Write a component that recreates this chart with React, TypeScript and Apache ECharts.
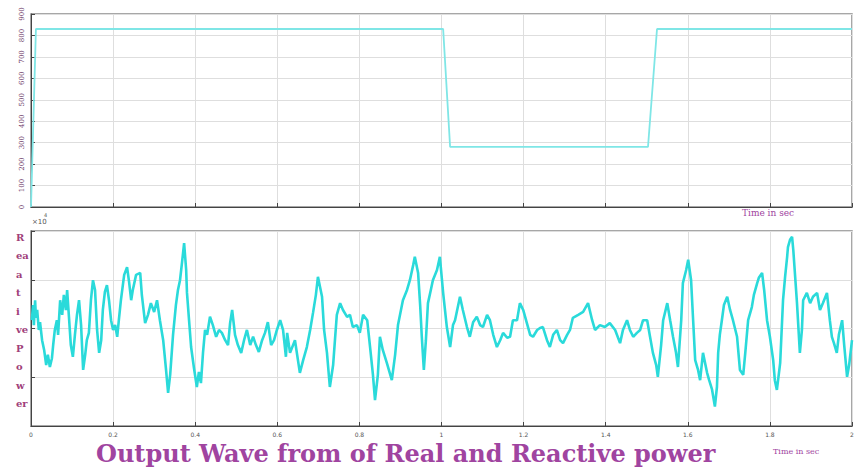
import React, { useEffect, useRef } from "react";
import * as echarts from "echarts";

// Top plot: real power (step profile)
const realTime = [0, 0.012, 1.004, 1.021, 1.503, 1.525, 2];
const realPower = [0, 830, 830, 280, 280, 830, 830];

// Bottom plot: reactive power (x10^4), noisy trace
const reactivePoints: [number, number][] = [
  [0.002,0.17],[0.005,0.48],[0.007,0.07],[0.010,0.58],[0.012,0.22],[0.015,0.38],[0.019,-0.03],[0.022,0.13],[0.027,-0.24],[0.032,-0.44],
  [0.037,-0.75],[0.041,-0.54],[0.046,-0.79],[0.051,-0.61],[0.054,-0.34],[0.058,-0.03],[0.063,0.17],[0.066,-0.13],[0.071,0.58],[0.076,0.28],
  [0.080,0.69],[0.085,0.38],[0.088,0.79],[0.093,0.17],[0.097,-0.34],[0.102,-0.58],[0.107,-0.13],[0.112,0.28],[0.117,0.58],[0.122,0.07],
  [0.127,-0.85],[0.132,-0.54],[0.136,-0.24],[0.141,-0.09],[0.146,0.58],[0.151,0.99],[0.156,0.79],[0.161,-0.03],[0.166,-0.50],[0.171,-0.24],
  [0.175,0.38],[0.180,0.75],[0.185,0.89],[0.190,0.58],[0.195,0.17],[0.200,-0.03],[0.205,0.07],[0.210,-0.17],[0.214,0.17],[0.219,0.58],
  [0.227,1.10],[0.234,1.26],[0.239,0.95],[0.244,0.58],[0.248,0.79],[0.256,1.10],[0.266,1.14],[0.270,0.69],[0.278,0.11],[0.285,0.28],
  [0.292,0.52],[0.300,0.34],[0.307,0.58],[0.314,0.17],[0.322,-0.24],[0.329,-0.85],[0.334,-1.32],[0.339,-0.95],[0.346,-0.13],[0.353,0.48],
  [0.358,0.79],[0.363,0.99],[0.368,1.36],[0.373,1.75],[0.378,1.20],[0.380,0.73],[0.385,0.17],[0.390,-0.38],[0.397,-0.81],[0.404,-1.20],
  [0.409,-0.89],[0.414,-1.12],[0.419,-0.50],[0.424,-0.03],[0.429,-0.13],[0.436,0.24],[0.443,0.07],[0.451,-0.17],[0.458,-0.03],[0.465,-0.09],
  [0.473,-0.24],[0.480,-0.34],[0.485,0.11],[0.490,0.38],[0.497,-0.13],[0.504,-0.34],[0.512,-0.50],[0.519,-0.24],[0.526,-0.03],[0.534,-0.34],
  [0.541,-0.17],[0.548,-0.34],[0.555,-0.48],[0.563,-0.24],[0.570,-0.09],[0.577,0.13],[0.585,-0.34],[0.592,-0.24],[0.599,-0.03],[0.607,0.17],
  [0.614,-0.03],[0.621,-0.58],[0.624,-0.09],[0.631,-0.50],[0.643,-0.24],[0.655,-0.91],[0.663,-0.65],[0.672,-0.38],[0.680,-0.03],[0.687,0.32],
  [0.694,0.69],[0.699,1.06],[0.709,0.65],[0.714,-0.03],[0.721,-0.50],[0.728,-1.20],[0.736,-0.75],[0.741,-0.17],[0.745,0.28],[0.753,0.52],
  [0.760,0.38],[0.770,0.24],[0.777,0.28],[0.784,0.03],[0.794,0.07],[0.801,-0.09],[0.809,0.28],[0.819,0.17],[0.826,-0.38],[0.833,-0.95],
  [0.838,-1.47],[0.845,-0.95],[0.850,-0.17],[0.857,-0.44],[0.867,-0.71],[0.879,-1.06],[0.887,-0.54],[0.894,0.07],[0.906,0.58],[0.916,0.79],
  [0.923,0.99],[0.931,1.30],[0.935,1.47],[0.943,1.14],[0.948,0.48],[0.952,-0.17],[0.957,-0.85],[0.962,-0.24],[0.967,0.52],[0.974,0.79],
  [0.979,0.99],[0.989,1.20],[0.996,1.47],[1.004,0.73],[1.013,0.03],[1.021,-0.38],[1.028,0.07],[1.033,0.17],[1.045,0.65],[1.052,0.38],
  [1.062,0.03],[1.069,-0.17],[1.077,0.13],[1.086,0.24],[1.094,0.07],[1.101,0.03],[1.111,0.28],[1.118,0.17],[1.126,-0.13],[1.135,-0.38],
  [1.143,-0.24],[1.150,-0.09],[1.160,-0.19],[1.167,-0.17],[1.174,0.17],[1.184,0.17],[1.191,0.52],[1.199,0.38],[1.208,0.11],[1.216,-0.13],
  [1.223,-0.17],[1.233,-0.03],[1.240,0.01],[1.247,0.03],[1.257,-0.24],[1.264,-0.38],[1.272,-0.13],[1.281,-0.03],[1.289,-0.24],[1.296,-0.30],
  [1.306,-0.13],[1.313,-0.03],[1.320,0.22],[1.333,0.28],[1.345,0.34],[1.357,0.52],[1.367,0.17],[1.374,-0.03],[1.386,0.07],[1.398,0.03],
  [1.410,0.11],[1.423,-0.03],[1.435,-0.30],[1.442,-0.03],[1.452,0.17],[1.459,-0.03],[1.467,-0.17],[1.476,-0.09],[1.484,-0.03],[1.491,0.17],
  [1.501,0.17],[1.508,-0.17],[1.515,-0.50],[1.523,-0.75],[1.527,-0.99],[1.535,-0.34],[1.540,0.17],[1.550,0.52],[1.557,0.17],[1.564,-0.17],
  [1.571,-0.48],[1.576,-0.79],[1.584,0.17],[1.588,0.93],[1.596,1.20],[1.601,1.41],[1.608,0.99],[1.613,0.17],[1.618,-0.65],[1.625,-0.85],
  [1.630,-1.06],[1.637,-0.50],[1.647,-0.91],[1.652,-1.06],[1.659,-1.25],[1.666,-1.60],[1.671,-1.20],[1.674,-0.50],[1.678,-0.13],[1.683,0.17],
  [1.688,0.48],[1.696,0.65],[1.703,0.38],[1.710,0.17],[1.720,-0.17],[1.727,-0.85],[1.735,-0.95],[1.740,-0.50],[1.747,0.17],[1.756,0.44],
  [1.761,0.69],[1.769,0.93],[1.773,1.04],[1.781,1.14],[1.786,0.79],[1.793,0.17],[1.800,-0.17],[1.808,-0.65],[1.812,-1.06],[1.817,-1.26],
  [1.825,-0.71],[1.832,0.58],[1.837,1.06],[1.842,1.47],[1.844,1.67],[1.849,1.82],[1.854,1.88],[1.857,1.61],[1.866,0.52],[1.873,-0.50],
  [1.878,-0.03],[1.881,0.58],[1.890,0.73],[1.898,0.52],[1.905,0.65],[1.915,0.73],[1.922,0.38],[1.929,0.52],[1.939,0.73],[1.946,0.17],
  [1.951,-0.17],[1.956,-0.30],[1.963,-0.50],[1.968,-0.13],[1.976,0.17],[1.981,-0.34],[1.988,-0.99],[1.993,-0.75],[2.000,-0.24],
];

const xTickLabels = ["0", "0.2", "0.4", "0.6", "0.8", "1", "1.2", "1.4", "1.6", "1.8", "2"];
const yLabelRows = ["R", "ea", "a", "t", "i", "ve", "P", "o", "w", "er"];
const titleText = "Output Wave from of Real and Reactive power";
const xAxisName = "Time in sec";

export default function App() {
  const ref = useRef<HTMLDivElement>(null);
  useEffect(() => {
    if (!ref.current) return;
    const chart = echarts.init(ref.current, undefined, { renderer: "svg" });
    const purple = "#a044a0";
    const axisCommon = {
      axisLine: { show: true, onZero: false, lineStyle: { color: "#444", width: 1 } },
      axisTick: { show: true, inside: true, length: 4, lineStyle: { color: "#444" } },
      splitLine: { show: true, lineStyle: { color: "#dedede", width: 1 } },
    };
    const rowTexts = yLabelRows.map((s, i) => ({
      type: "text",
      left: 16,
      top: 232 + i * 18.5,
      style: { text: s, fill: "#a0407a", font: "bold 10px 'DejaVu Serif', serif" },
    }));
    chart.setOption({
      animation: false,
      backgroundColor: "#ffffff",
      grid: [
        { left: 31, top: 14, width: 821, height: 193, show: true, borderColor: "#8a8a8a", borderWidth: 1.5, backgroundColor: "transparent" },
        { left: 31, top: 231, width: 821, height: 195, show: true, borderColor: "#8a8a8a", borderWidth: 1.5, backgroundColor: "transparent" },
      ],
      xAxis: [
        { type: "value", gridIndex: 0, min: 0, max: 2, interval: 0.2, ...axisCommon, axisLabel: { show: false } },
        {
          type: "value", gridIndex: 1, min: 0, max: 2, interval: 0.2, ...axisCommon,
          axisLabel: {
            show: true, fontSize: 6, color: "#555", margin: 5, fontFamily: "DejaVu Sans",
            formatter: (v: number) => xTickLabels[Math.round(v / 0.2)] ?? "",
          },
        },
      ],
      yAxis: [
        {
          type: "value", gridIndex: 0, min: 0, max: 900, interval: 100, ...axisCommon,
          axisLabel: { show: true, fontSize: 7, color: "#6a3565", rotate: 90, margin: 6, fontFamily: "DejaVu Serif" },
        },
        {
          type: "value", gridIndex: 1, min: -2, max: 2, interval: 1, ...axisCommon,
          axisLabel: { show: false },
        },
      ],
      series: [
        {
          type: "line", xAxisIndex: 0, yAxisIndex: 0, symbol: "none",
          data: realTime.map((t, i) => [t, realPower[i]]),
          lineStyle: { color: "#7fe6e6", width: 1.8 },
        },
        {
          type: "line", xAxisIndex: 1, yAxisIndex: 1, symbol: "none",
          data: reactivePoints,
          lineStyle: { color: "#2adada", width: 2.6 },
        },
      ],
      graphic: [
        { type: "text", left: 742, top: 208, style: { text: xAxisName, fill: purple, font: "9px 'DejaVu Serif', serif" } },
        { type: "text", left: 773, top: 447, style: { text: xAxisName, fill: purple, font: "8px 'DejaVu Serif', serif" } },
        { type: "text", left: 32, top: 218, style: { text: "×10", fill: "#555", font: "7px 'DejaVu Sans', sans-serif" } },
        { type: "text", left: 44, top: 212, style: { text: "4", fill: "#555", font: "5px 'DejaVu Sans', sans-serif" } },
        ...rowTexts,
        {
          type: "text", left: 96, top: 441,
          style: { text: titleText, fill: purple, font: "bold 24px 'DejaVu Serif', serif" },
        },
      ],
    });
    return () => chart.dispose();
  }, []);
  return <div ref={ref} style={{ position: "fixed", left: 0, top: 0, width: 859, height: 470 }} />;
}
